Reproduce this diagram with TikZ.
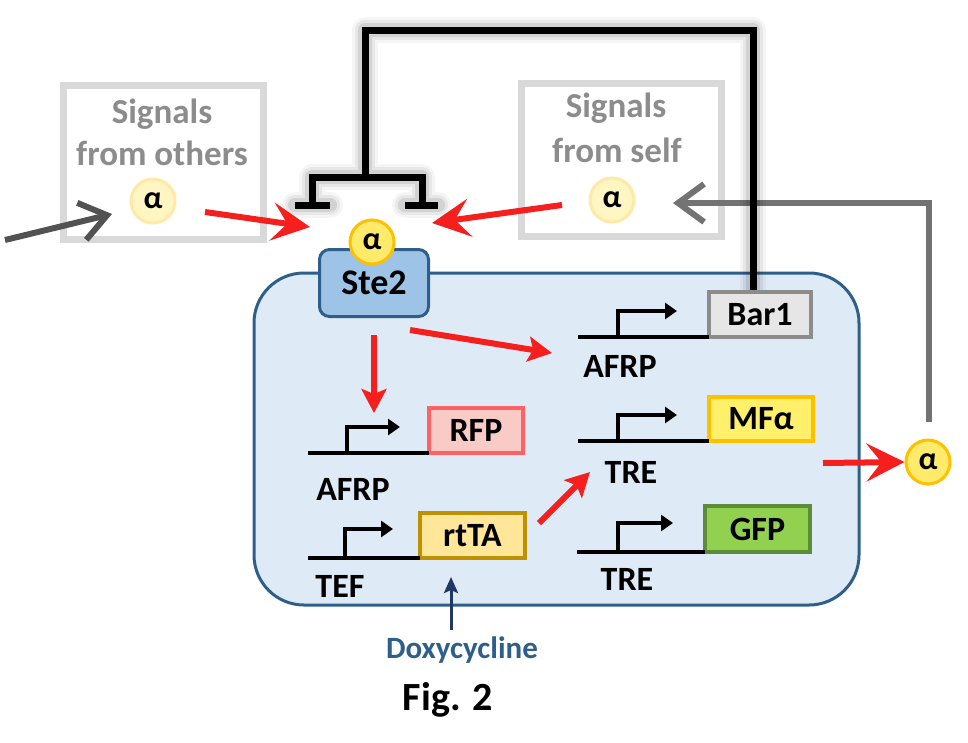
\documentclass[tikz,border=0pt]{standalone}
\usepackage{fontspec}
\setmainfont{Carlito}
\usetikzlibrary{arrows.meta}
\definecolor{cellfill}{HTML}{DEEBF7}
\definecolor{celldraw}{HTML}{2E5F8A}
\definecolor{stefill}{HTML}{9DC3E6}
\definecolor{sigdraw}{HTML}{D9D9D9}
\definecolor{sigtext}{HTML}{8C8C8C}
\definecolor{myred}{HTML}{F5201E}
\definecolor{alphafill}{HTML}{FFEB6B}
\definecolor{alphadraw}{HTML}{FFC000}
\definecolor{palefill}{HTML}{FFF6C4}
\definecolor{paledraw}{HTML}{FFE9A6}
\definecolor{barfill}{HTML}{E7E6E6}
\definecolor{bardraw}{HTML}{8C8C8C}
\definecolor{rfpfill}{HTML}{F8CBC6}
\definecolor{rfpdraw}{HTML}{FF6262}
\definecolor{mffill}{HTML}{FFF06B}
\definecolor{mfdraw}{HTML}{FFC000}
\definecolor{gfpfill}{HTML}{92D050}
\definecolor{gfpdraw}{HTML}{5B8C38}
\definecolor{rtfill}{HTML}{FFE699}
\definecolor{rtdraw}{HTML}{BF9000}
\definecolor{doxytext}{HTML}{2E5F8A}
\definecolor{doxyarrow}{HTML}{1F3864}
\begin{document}
\begin{tikzpicture}[x=1pt,y=-1pt,
  lbl/.style={font=\bfseries\fontsize{34}{40}\selectfont, inner sep=0pt, anchor=base},
  genebox/.style={draw, line width=4pt, inner sep=0pt, outer sep=0pt, font=\bfseries\fontsize{34}{40}\selectfont},
  sigbox/.style={draw=sigdraw, line width=7pt, fill=white, inner sep=0pt},
  sigtxt/.style={font=\bfseries\fontsize{35}{42}\selectfont, text=sigtext, inner sep=0pt, anchor=base},
  alphanode/.style={circle, draw=alphadraw, fill=alphafill, line width=3pt, minimum size=44pt, inner sep=0pt, font=\bfseries\fontsize{32}{34}\selectfont},
  palealpha/.style={alphanode, draw=paledraw, fill=palefill},
  dna/.style={line width=4pt, black},
  prom/.style={line width=4pt, black, -{Triangle[length=12pt,width=16pt]}},
  redbig/.style={draw=myred, line width=6pt, -{Stealth[length=38pt,width=38pt,inset=15pt]}},
  redsmall/.style={draw=myred, line width=6pt, -{Stealth[length=24pt,width=25pt,inset=5pt]}},
  grayarr/.style={line width=6pt, -{Straight Barb[length=26pt,width=38pt]}},
  inhib/.style={line width=7pt, black, line join=miter}
]
\useasboundingbox (0,0) rectangle (968,742);

% signal boxes
\node[sigbox, minimum width=200pt, minimum height=154pt] (others) at (163.5,162.5) {};
\node[sigtxt] (othersA) at (162,123) {Signals};
\node[sigtxt] (othersB) at (162,165) {from others};
\node[palealpha] (alphaO) at (153,201) {α};

\node[sigbox, minimum width=200pt, minimum height=153pt] (self) at (621.5,160) {};
\node[sigtxt] (selfA) at (616,117) {Signals};
\node[sigtxt] (selfB) at (617,162) {from self};
\node[palealpha] (alphaS) at (612,200) {α};

% cell
\draw[draw=celldraw, fill=cellfill, line width=3pt, rounded corners=50pt] (254,273) rectangle (859,605);
\node[draw=celldraw, fill=stefill, line width=3pt, rounded corners=10pt, minimum width=109pt, minimum height=67pt, inner sep=0pt, font=\bfseries\fontsize{36}{40}\selectfont] (ste2) at (374,283) {Ste2};
\node[alphanode] (alphaR) at (372,242) {α};

% gray feedback loop
\coordinate (loopS) at (929,422);
\coordinate (loopT) at (673,203);
\draw[grayarr, draw=black!55] (loopS) |- (loopT);
\coordinate (extS) at (5,240);
\coordinate (extT) at (112,214);
\draw[grayarr, draw=black!68] (extS) -- (extT);

% inhibition by Bar1
\coordinate (ihR) at (753,290);
\coordinate (ihRT) at (753,30);
\coordinate (ihLT) at (365,30);
\coordinate (ihM) at (365,177);
\coordinate (ihA) at (312,205);
\coordinate (ihAt) at (312,177);
\coordinate (ihB) at (422,205);
\coordinate (ihBt) at (422,177);
\coordinate (ihA1) at (295,205);
\coordinate (ihA2) at (330,205);
\coordinate (ihB1) at (405,205);
\coordinate (ihB2) at (438,205);
\begin{scope}[shift={(2,3)}]
\foreach \w/\o in {26/0.04,20/0.06,14/0.09}{
  \draw[line width=\w pt, black, opacity=\o, line join=round, line cap=round] (ihR) -- (ihRT) -- (ihLT) -- (ihM) (ihA) -- (ihAt) -- (ihBt) -- (ihB) (ihA1) -- (ihA2) (ihB1) -- (ihB2);
}
\end{scope}
\draw[inhib] (ihR) -- (ihRT) -- (ihLT) -- (ihM) (ihA) -- (ihAt) -- (ihBt) -- (ihB) (ihA1) -- (ihA2) (ihB1) -- (ihB2);

% genes
\node[genebox, draw=bardraw, fill=barfill, minimum width=102pt, minimum height=45pt] (bar1) at (760,314.5) {Bar1};
\coordinate (bar1L) at (578,337);
\draw[dna] (bar1L) -- (bar1.south west);
\draw[prom] (618,337) |- (677,311);
\node[lbl] (afrp1) at (620,377) {AFRP};

\node[genebox, draw=mfdraw, fill=mffill, minimum width=104pt, minimum height=44pt] (mfa) at (761,419) {MFα};
\coordinate (mfaL) at (578,441);
\draw[dna] (mfaL) -- (mfa.south west);
\draw[prom] (618,441) |- (677,415);
\node[lbl] (tre1) at (631,483) {TRE};

\node[genebox, draw=gfpdraw, fill=gfpfill, minimum width=105pt, minimum height=46pt] (gfp) at (757.5,529) {GFP};
\coordinate (gfpL) at (577,552);
\draw[dna] (gfpL) -- (gfp.south west);
\draw[prom] (618,552) |- (673,523);
\node[lbl] (tre2) at (627,590) {TRE};

\node[genebox, draw=rfpdraw, fill=rfpfill, minimum width=94pt, minimum height=45pt] (rfp) at (476,430.5) {RFP};
\coordinate (rfpL) at (308,453);
\draw[dna] (rfpL) -- (rfp.south west);
\draw[prom] (347,453) |- (400,427);
\node[lbl] (afrp2) at (353,500) {AFRP};

\node[genebox, draw=rtdraw, fill=rtfill, minimum width=105pt, minimum height=45pt] (rtta) at (472.5,535.5) {rtTA};
\coordinate (rttaL) at (308,558);
\draw[dna] (rttaL) -- (rtta.south west);
\draw[prom] (345,558) |- (393,529);
\node[lbl] (tef) at (340,597) {TEF};

% output alpha
\node[alphanode] (alphaOut) at (928,462) {α};

% red arrows
\coordinate (r1s) at (205,212); \coordinate (r1t) at (310,227);
\draw[redbig] (r1s) -- (r1t);
\coordinate (r2s) at (562,205); \coordinate (r2t) at (432,223);
\draw[redbig] (r2s) -- (r2t);
\coordinate (r3s) at (374,335); \coordinate (r3t) at (374,413);
\draw[redsmall] (r3s) -- (r3t);
\coordinate (r4s) at (410,330); \coordinate (r4t) at (552,353);
\draw[redsmall] (r4s) -- (r4t);
\coordinate (r5s) at (539,523); \coordinate (r5t) at (590,472);
\draw[redsmall] (r5s) -- (r5t);
\coordinate (r6s) at (823,463);
\draw[redbig] (r6s) -- (alphaOut.west);

% doxycycline
\node[font=\bfseries\fontsize{31}{36}\selectfont, text=doxytext, inner sep=0pt, anchor=base] (doxy) at (462,658) {Doxycycline};
\coordinate (dxs) at (451,630); \coordinate (dxt) at (451,577);
\draw[line width=3pt, draw=doxyarrow, -{Stealth[length=16pt,width=14pt,inset=3pt]}] (dxs) -- (dxt);

% caption
\node[font=\bfseries\fontsize{40}{46}\selectfont, inner sep=0pt, anchor=base] (fig) at (448,710) {Fig. 2};
\end{tikzpicture}
\end{document}
